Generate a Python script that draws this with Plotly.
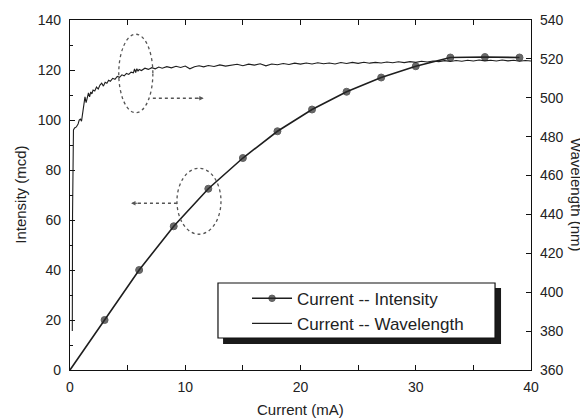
import plotly.graph_objects as go

# ---------------- data ----------------
int_current = [0, 3, 6, 9, 12, 15, 18, 21, 24, 27, 30, 33, 36, 39]
int_values = [0, 20.0, 40.0, 57.5, 72.5, 84.8, 95.5, 104.2, 111.3, 117.0, 121.5, 125.0, 125.2, 125.0]

wl_current = [
    0.20, 0.22, 0.30, 0.40, 0.55, 0.70, 0.80, 0.90, 1.00, 1.10,
    1.20, 1.30, 1.40, 1.50, 1.60, 1.70, 1.80, 1.90, 2.00, 2.15,
    2.30, 2.45, 2.60, 2.75, 2.90, 3.05, 3.20, 3.35, 3.50, 3.70,
    3.90, 4.10, 4.30, 4.50, 4.70, 4.90, 5.10, 5.30, 5.50, 5.60,
    5.70, 5.80, 5.90, 6.00, 6.20, 6.50, 6.80, 7.10, 7.40, 7.70,
    8.00, 8.40, 8.80, 9.20, 9.60, 10.0, 10.4, 10.8, 11.2, 11.6,
    12.0, 12.5, 13.0, 13.5, 14.0, 14.5, 15.0, 15.5, 16.0, 16.5,
    17.0, 17.5, 18.0, 18.5, 19.0, 19.5, 20.0, 20.5, 21.0, 21.5,
    22.0, 22.5, 23.0, 23.5, 24.0, 24.5, 25.0, 25.5, 26.0, 26.5,
    27.0, 27.5, 28.0, 28.5, 29.0, 29.5, 30.0, 30.5, 31.0, 31.5,
    32.0, 32.5, 33.0, 33.5, 34.0, 34.5, 35.0, 35.5, 36.0, 36.5,
    37.0, 37.5, 38.0, 38.5, 39.0, 39.5, 40.0,
]
wl_values = [
    380.0, 440.0, 483.5, 484.5, 485.0, 486.5, 488.5, 489.0, 488.0, 492.5,
    498.5, 500.5, 497.5, 501.0, 502.5, 500.5, 503.0, 502.0, 504.0, 503.5,
    505.5, 504.5, 506.5, 507.5, 506.0, 508.0, 507.5, 509.0, 508.5, 510.0,
    509.5, 511.0, 510.5, 511.8, 511.3, 512.5, 512.0, 513.2, 512.8, 514.8,
    513.0, 515.0, 513.6, 514.6, 514.0, 515.2, 514.6, 515.5, 514.9, 515.8,
    515.2, 516.0, 515.4, 516.2, 515.6, 516.3, 514.9, 516.0, 516.5, 515.9,
    516.6, 516.1, 516.9, 516.3, 516.8, 517.2, 516.5, 517.3, 516.8, 517.5,
    516.4, 517.4, 517.0, 517.6, 517.1, 517.8, 517.3, 517.9, 517.4, 518.0,
    517.5, 517.9, 517.4, 518.1, 517.6, 518.2, 517.7, 518.3, 517.8, 518.2,
    517.9, 518.4, 518.0, 518.5, 518.1, 518.6, 518.2, 518.8, 518.4, 518.9,
    518.6, 519.1, 518.7, 519.2, 518.8, 519.3, 518.9, 519.4, 519.0, 519.3,
    518.9, 519.4, 519.0, 519.3, 518.8, 519.2, 518.9,
]

x_ticks = [0, 10, 20, 30, 40]
y_ticks = [0, 20, 40, 60, 80, 100, 120, 140]
y2_ticks = [360, 380, 400, 420, 440, 460, 480, 500, 520, 540]

FONT = "Liberation Sans, Arial, sans-serif"
INK = "#1e1e1e"
TXT = "#222"

fig = go.Figure()

fig.add_trace(go.Scatter(
    x=int_current, y=int_values, name="Current -- Intensity",
    mode="lines+markers",
    line=dict(color=INK, width=1.6),
    marker=dict(color="#2b2b2b", size=[0] + [7] * (len(int_current) - 1)),
    yaxis="y",
))
fig.add_trace(go.Scatter(
    x=wl_current, y=wl_values, name="Current -- Wavelength",
    mode="lines",
    line=dict(color=INK, width=1.1),
    yaxis="y2",
))

axis_common = dict(
    showline=True, linecolor="#111", linewidth=1.2,
    ticks="inside", ticklen=5, tickwidth=1.1, tickcolor="#111",
    showgrid=False, zeroline=False, automargin=False,
    tickfont=dict(family=FONT, size=14, color=TXT),
)

# page body has an 8 px default margin, so the figure is 580x411 placed at (8, 8)
fig.update_layout(
    width=580, height=411,
    margin=dict(l=62, r=57, t=12, b=49, autoexpand=False),
    paper_bgcolor="white", plot_bgcolor="white",
    showlegend=True,
    legend=dict(
        x=0.384, y=0.255, xanchor="left", yanchor="top",
        bgcolor="rgba(0,0,0,0)", borderwidth=0,
        font=dict(family=FONT, size=17, color=TXT),
        tracegroupgap=0, itemwidth=40,
    ),
    xaxis=dict(
        range=[0, 40], tickvals=x_ticks, mirror="allticks",
        minor=dict(dtick=5, ticks="inside", ticklen=3, tickcolor="#111"),
        ticklabelstandoff=4,
        **axis_common,
    ),
    yaxis=dict(
        range=[0, 140], tickvals=y_ticks,
        minor=dict(dtick=10, ticks="inside", ticklen=3, tickcolor="#111"),
        ticklabelstandoff=5,
        **axis_common,
    ),
    yaxis2=dict(
        range=[360, 540], tickvals=y2_ticks, overlaying="y", side="right",
        ticklabelstandoff=5,
        **axis_common,
    ),
)

# axis titles
title_font = dict(family=FONT, size=15, color=TXT)
fig.add_annotation(text="Current (mA)", xref="paper", yref="paper", x=0.499, y=-0.113,
                   xanchor="center", yanchor="middle", showarrow=False, font=title_font)
fig.add_annotation(text="Intensity (mcd)", xref="paper", yref="paper", x=-0.109, y=0.5,
                   xanchor="center", yanchor="middle", textangle=-90, showarrow=False, font=title_font)
fig.add_annotation(text="Wavelength (nm)", xref="paper", yref="paper", x=1.100, y=0.5,
                   xanchor="center", yanchor="middle", textangle=90, showarrow=False, font=title_font)

# legend box with drop shadow
fig.add_shape(type="rect", xref="paper", yref="paper",
              x0=0.332, x1=0.935, y0=0.0743, y1=0.2343,
              fillcolor="#1a1a1a", line=dict(width=0), layer="above")
fig.add_shape(type="rect", xref="paper", yref="paper",
              x0=0.321, x1=0.922, y0=0.0914, y1=0.2486,
              fillcolor="white", line=dict(color="#111", width=1.2), layer="above")

# dotted ellipses
fig.add_shape(type="circle", xref="x", yref="y", x0=4.23, x1=7.19, y0=102.9, y1=134.3,
              line=dict(color="#555", width=1.3, dash="dot"), layer="above")
fig.add_shape(type="circle", xref="x", yref="y", x0=9.28, x1=13.1, y0=54.3, y1=80.7,
              line=dict(color="#555", width=1.3, dash="dot"), layer="above")

# dotted arrows
fig.add_shape(type="line", xref="x", yref="y", x0=7.19, x1=11.3, y0=108.7, y1=108.7,
              line=dict(color="#555", width=1.3, dash="dot"), layer="above")
fig.add_annotation(x=11.6, y=108.7, ax=10.9, ay=108.7, xref="x", yref="y", axref="x", ayref="y",
                   showarrow=True, arrowhead=2, arrowsize=0.8, arrowwidth=1.1, arrowcolor="#555", text="")
fig.add_shape(type="line", xref="x", yref="y", x0=9.28, x1=5.6, y0=66.7, y1=66.7,
              line=dict(color="#555", width=1.3, dash="dot"), layer="above")
fig.add_annotation(x=5.3, y=66.7, ax=6.0, ay=66.7, xref="x", yref="y", axref="x", ayref="y",
                   showarrow=True, arrowhead=2, arrowsize=0.8, arrowwidth=1.1, arrowcolor="#555", text="")

fig.write_html("out.html")
